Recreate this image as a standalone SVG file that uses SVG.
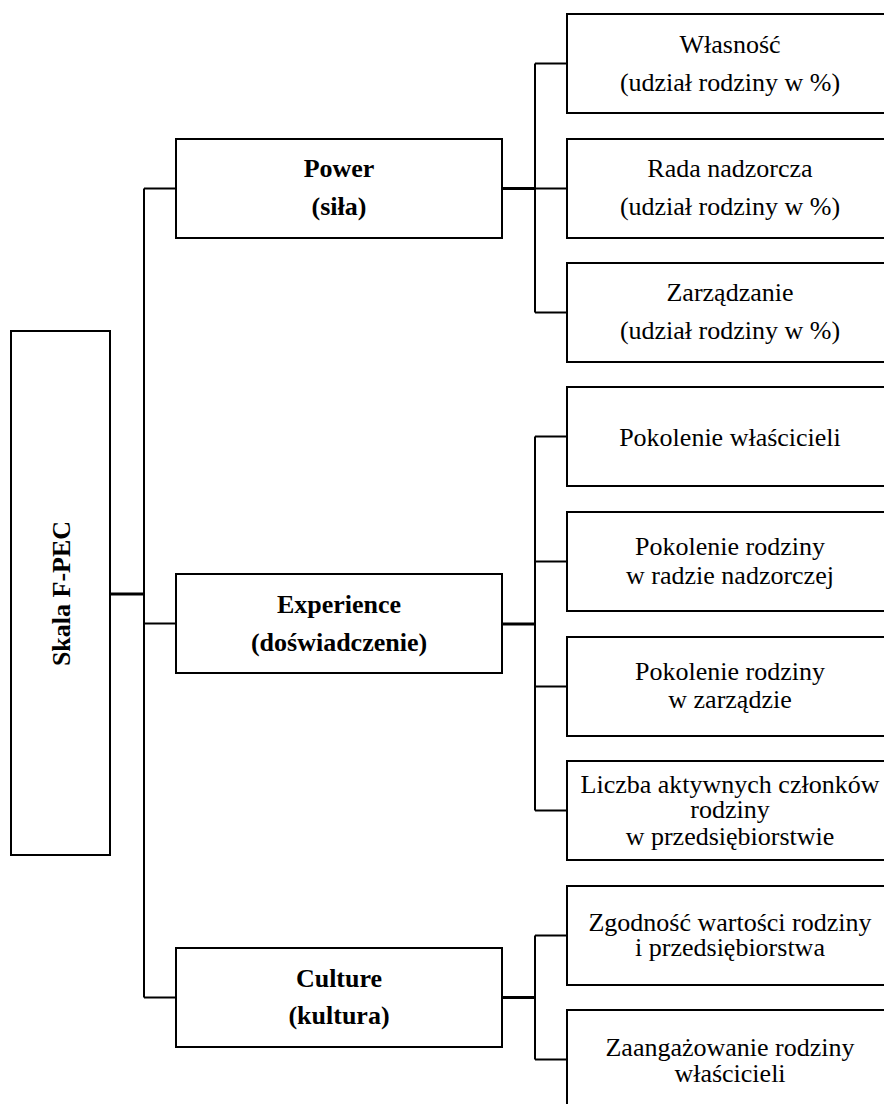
<svg xmlns="http://www.w3.org/2000/svg" width="884" height="1104" viewBox="0 0 884 1104">
<style>
.box{fill:#fff;stroke:#000;stroke-width:2}
.ln{stroke:#000;stroke-width:2;fill:none}
.thick{stroke:#000;stroke-width:3;fill:none}
text{font-family:"Liberation Serif","Times New Roman",serif;font-size:26px;fill:#000;text-anchor:middle}
.b{font-weight:bold}
</style>
<rect width="884" height="1104" fill="#fff"/>
<g id="connectors">
<line class="thick" x1="110" y1="594" x2="144" y2="594"/>
<line class="ln" x1="144" y1="188.5" x2="144" y2="997.5"/>
<line class="ln" x1="144" y1="188.5" x2="176" y2="188.5"/>
<line class="ln" x1="144" y1="623.5" x2="176" y2="623.5"/>
<line class="ln" x1="144" y1="997.5" x2="176" y2="997.5"/>
<line class="thick" x1="502" y1="188.5" x2="535" y2="188.5"/>
<line class="ln" x1="535" y1="63.5" x2="535" y2="312.5"/>
<line class="ln" x1="535" y1="63.5" x2="567" y2="63.5"/>
<line class="ln" x1="535" y1="188.5" x2="567" y2="188.5"/>
<line class="ln" x1="535" y1="312.5" x2="567" y2="312.5"/>
<line class="thick" x1="502" y1="624" x2="535" y2="624"/>
<line class="ln" x1="535" y1="436.5" x2="535" y2="810.5"/>
<line class="ln" x1="535" y1="436.5" x2="567" y2="436.5"/>
<line class="ln" x1="535" y1="561.5" x2="567" y2="561.5"/>
<line class="ln" x1="535" y1="686.5" x2="567" y2="686.5"/>
<line class="ln" x1="535" y1="810.5" x2="567" y2="810.5"/>
<line class="thick" x1="502" y1="997.5" x2="535" y2="997.5"/>
<line class="ln" x1="535" y1="935.5" x2="535" y2="1059.5"/>
<line class="ln" x1="535" y1="935.5" x2="567" y2="935.5"/>
<line class="ln" x1="535" y1="1059.5" x2="567" y2="1059.5"/>
</g>
<g id="skala">
<rect class="box" x="11" y="331" width="99" height="524"/>
<text class="b" transform="translate(70 593.5) rotate(-90)">Skala F-PEC</text>
</g>
<g id="power">
<rect class="box" x="176" y="139" width="326" height="99"/>
<text class="b" x="339" y="177">Power</text>
<text class="b" x="339" y="215">(siła)</text>
</g>
<g id="experience">
<rect class="box" x="176" y="574" width="326" height="99"/>
<text class="b" x="339" y="613">Experience</text>
<text class="b" x="339" y="651">(doświadczenie)</text>
</g>
<g id="culture">
<rect class="box" x="176" y="948" width="326" height="99"/>
<text class="b" x="339" y="987">Culture</text>
<text class="b" x="339" y="1024">(kultura)</text>
</g>
<g id="wlasnosc">
<rect class="box" x="567" y="14" width="326" height="99"/>
<text x="730" y="53">Własność</text>
<text x="730" y="91">(udział rodziny w %)</text>
</g>
<g id="rada">
<rect class="box" x="567" y="139" width="326" height="99"/>
<text x="730" y="177">Rada nadzorcza</text>
<text x="730" y="215">(udział rodziny w %)</text>
</g>
<g id="zarzadzanie">
<rect class="box" x="567" y="263" width="326" height="99"/>
<text x="730" y="301">Zarządzanie</text>
<text x="730" y="339">(udział rodziny w %)</text>
</g>
<g id="pokolenie-wlascicieli">
<rect class="box" x="567" y="387" width="326" height="99"/>
<text x="730" y="446">Pokolenie właścicieli</text>
</g>
<g id="pokolenie-rada">
<rect class="box" x="567" y="512" width="326" height="99"/>
<text x="730" y="555">Pokolenie rodziny</text>
<text x="730" y="584">w radzie nadzorczej</text>
</g>
<g id="pokolenie-zarzad">
<rect class="box" x="567" y="637" width="326" height="99"/>
<text x="730" y="680">Pokolenie rodziny</text>
<text x="730" y="708">w zarządzie</text>
</g>
<g id="liczba">
<rect class="box" x="567" y="761" width="326" height="99"/>
<text x="730" y="793">Liczba aktywnych członków</text>
<text x="730" y="818">rodziny</text>
<text x="730" y="845">w przedsiębiorstwie</text>
</g>
<g id="zgodnosc">
<rect class="box" x="567" y="886" width="326" height="99"/>
<text x="730" y="931">Zgodność wartości rodziny</text>
<text x="730" y="956">i przedsiębiorstwa</text>
</g>
<g id="zaangazowanie">
<rect class="box" x="567" y="1010" width="326" height="110"/>
<text x="730" y="1056">Zaangażowanie rodziny</text>
<text x="730" y="1082">właścicieli</text>
</g>
</svg>
